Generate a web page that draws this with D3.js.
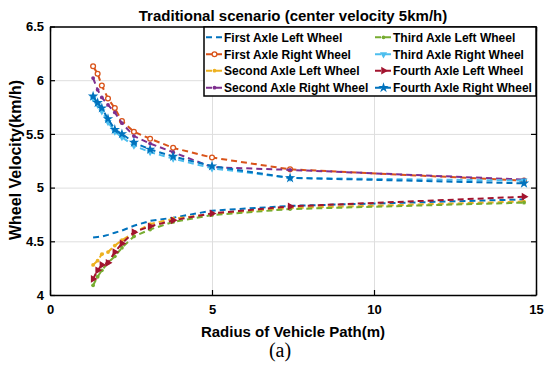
<!DOCTYPE html>
<html>
<head>
  <meta charset="utf-8">
  <script src="https://d3js.org/d3.v7.min.js"></script>
  <style>
    body { margin: 0; background: white; }
    svg { font-family: "Liberation Sans", Arial, sans-serif; }
    .grid line { stroke: #dedede; stroke-width: 1; }
    .grid path { display: none; }
  </style>
</head>
<body>
  <div id="chart"></div>
  <script>
    // radius of vehicle path (m)
    var radius = [1.33, 1.47, 1.60, 1.79, 2.0, 2.22, 2.59, 3.09, 3.80, 5.0, 7.41, 14.63];

    var firstLeft   = [4.535, 4.54, 4.545, 4.56, 4.58, 4.60, 4.645, 4.69, 4.72, 4.785, 4.83, 4.89];
    var firstRight  = [6.13, 6.06, 5.95, 5.83, 5.74, 5.62, 5.52, 5.455, 5.37, 5.28, 5.17, 5.065];
    var secondLeft  = [4.28, 4.32, 4.38, 4.40, 4.46, 4.51, 4.58, 4.66, 4.71, 4.755, 4.81, 4.87];
    var secondRight = [6.02, 5.91, 5.84, 5.77, 5.70, 5.60, 5.48, 5.41, 5.33, 5.19, 5.165, 5.075];
    var thirdLeft   = [4.09, 4.17, 4.23, 4.30, 4.36, 4.44, 4.545, 4.61, 4.68, 4.745, 4.80, 4.86];
    var thirdRight  = [5.83, 5.77, 5.71, 5.61, 5.52, 5.47, 5.39, 5.33, 5.27, 5.18, 5.09, 5.065];
    var fourthLeft  = [4.15, 4.23, 4.28, 4.30, 4.40, 4.48, 4.585, 4.64, 4.695, 4.76, 4.825, 4.915];
    var fourthRight = [5.85, 5.79, 5.74, 5.64, 5.54, 5.50, 5.42, 5.355, 5.29, 5.20, 5.09, 5.04];

    var seriesNames = ["First Axle Left Wheel", "First Axle Right Wheel", "Second Axle Left Wheel",
      "Second Axle Right Wheel", "Third Axle Left Wheel", "Third Axle Right Wheel",
      "Fourth Axle Left Wheel", "Fourth Axle Right Wheel"];
    var seriesValues = [firstLeft, firstRight, secondLeft, secondRight, thirdLeft, thirdRight, fourthLeft, fourthRight];
    var seriesColors = ["#0072BD", "#D95319", "#EDB120", "#7E2F8E", "#77AC30", "#4DBEEE", "#A2142F", "#0072BD"];
    var seriesMarkers = ["none", "circle", "dot", "dot", "dot", "triDown", "triRight", "star"];

    var xTicks = [0, 5, 10, 15];
    var yTicks = [4, 4.5, 5, 5.5, 6, 6.5];

    var width = 550, height = 380;
    var plotLeft = 50, plotRight = 536, plotTop = 26.5, plotBottom = 295;

    var svg = d3.select("#chart").append("svg")
      .attr("width", width)
      .attr("height", height);

    svg.append("rect").attr("width", width).attr("height", height).attr("fill", "white");

    var x = d3.scaleLinear().domain([0, 15]).range([plotLeft, plotRight]);
    var y = d3.scaleLinear().domain([4, 6.5]).range([plotBottom, plotTop]);

    // grid
    svg.append("g").attr("class", "grid")
      .attr("transform", "translate(0," + plotBottom + ")")
      .call(d3.axisBottom(x).tickValues(xTicks).tickSize(-(plotBottom - plotTop)).tickFormat(""));
    svg.append("g").attr("class", "grid")
      .attr("transform", "translate(" + plotLeft + ",0)")
      .call(d3.axisLeft(y).tickValues(yTicks).tickSize(-(plotRight - plotLeft)).tickFormat(""));

    // series
    function drawMarker(g, type, color, px, py) {
      if (type == "circle") {
        g.append("circle").attr("cx", px).attr("cy", py).attr("r", 2.4)
          .attr("fill", "white").attr("stroke", color).attr("stroke-width", 1.3);
      } else if (type == "dot") {
        g.append("circle").attr("cx", px).attr("cy", py).attr("r", 1.9).attr("fill", color);
      } else if (type == "triDown") {
        g.append("path").attr("transform", "translate(" + px + "," + py + ") rotate(180)")
          .attr("d", d3.symbol().type(d3.symbolTriangle).size(22)).attr("fill", color);
      } else if (type == "triRight") {
        g.append("path").attr("transform", "translate(" + px + "," + py + ") rotate(90)")
          .attr("d", d3.symbol().type(d3.symbolTriangle).size(26)).attr("fill", color);
      } else if (type == "star") {
        g.append("path").attr("transform", "translate(" + px + "," + py + ")")
          .attr("d", d3.symbol().type(d3.symbolStar).size(34)).attr("fill", color);
      }
    }

    var line = d3.line()
      .x(function (d, i) { return x(radius[i]); })
      .y(function (d) { return y(d); });

    seriesValues.forEach(function (vals, s) {
      var g = svg.append("g");
      g.append("path")
        .attr("d", line(vals))
        .attr("fill", "none")
        .attr("stroke", seriesColors[s])
        .attr("stroke-width", 2)
        .attr("stroke-dasharray", "6,4");
      vals.forEach(function (v, i) {
        drawMarker(g, seriesMarkers[s], seriesColors[s], x(radius[i]), y(v));
      });
    });

    // axes box with inward ticks
    var axisStyle = function (g) {
      g.selectAll("path").attr("stroke", "black").attr("stroke-width", 1.5);
      g.selectAll("line").attr("stroke", "black").attr("stroke-width", 1.2);
      g.selectAll("text").attr("fill", "black").attr("font-size", "13px").attr("font-weight", "bold")
        .attr("font-family", "Liberation Sans, Arial, sans-serif");
    };
    svg.append("g").attr("transform", "translate(0," + plotBottom + ")")
      .call(d3.axisBottom(x).tickValues(xTicks).tickSizeInner(-5).tickSizeOuter(0).tickPadding(10).tickFormat(d3.format("d")))
      .call(axisStyle);
    svg.append("g").attr("transform", "translate(0," + plotTop + ")")
      .call(d3.axisTop(x).tickValues(xTicks).tickSizeInner(-5).tickSizeOuter(0).tickFormat(""))
      .call(axisStyle);
    svg.append("g").attr("transform", "translate(" + plotLeft + ",0)")
      .call(d3.axisLeft(y).tickValues(yTicks).tickSizeInner(-5).tickSizeOuter(0).tickPadding(6).tickFormat(function (d) { return d; }))
      .call(axisStyle);
    svg.append("g").attr("transform", "translate(" + plotRight + ",0)")
      .call(d3.axisRight(y).tickValues(yTicks).tickSizeInner(-5).tickSizeOuter(0).tickFormat(""))
      .call(axisStyle);

    // title and labels
    svg.append("text").attr("x", (plotLeft + plotRight) / 2).attr("y", 21)
      .attr("text-anchor", "middle").attr("font-size", "15px").attr("font-weight", "bold")
      .text("Traditional scenario (center velocity 5km/h)");
    svg.append("text").attr("x", (plotLeft + plotRight) / 2).attr("y", 337)
      .attr("text-anchor", "middle").attr("font-size", "15px").attr("font-weight", "bold")
      .text("Radius of Vehicle Path(m)");
    svg.append("text").attr("transform", "translate(21,160) rotate(-90)")
      .attr("text-anchor", "middle").attr("font-size", "16px").attr("font-weight", "bold")
      .text("Wheel Velocity(km/h)");
    svg.append("text").attr("x", 280).attr("y", 357)
      .attr("text-anchor", "middle").attr("font-size", "20px")
      .attr("font-family", "Liberation Serif, DejaVu Serif, serif")
      .text("(a)");

    // legend
    var legend = svg.append("g");
    legend.append("rect").attr("x", 204).attr("y", 27).attr("width", 332).attr("height", 69)
      .attr("fill", "white").attr("stroke", "black").attr("stroke-width", 1.5);
    var rowY = [37.3, 54.3, 70.7, 87.7];
    var colX = [206, 375];
    seriesNames.forEach(function (name, s) {
      var cx = colX[Math.floor(s / 4)], cy = rowY[s % 4];
      legend.append("line").attr("x1", cx).attr("x2", cx + 17).attr("y1", cy).attr("y2", cy)
        .attr("stroke", seriesColors[s]).attr("stroke-width", 2).attr("stroke-dasharray", "6,4");
      drawMarker(legend, seriesMarkers[s], seriesColors[s], cx + 8.5, cy);
      legend.append("text").attr("x", cx + 18).attr("y", cy + 4.3)
        .attr("font-size", "12px").attr("font-weight", "bold").text(name);
    });
  </script>
</body>
</html>
